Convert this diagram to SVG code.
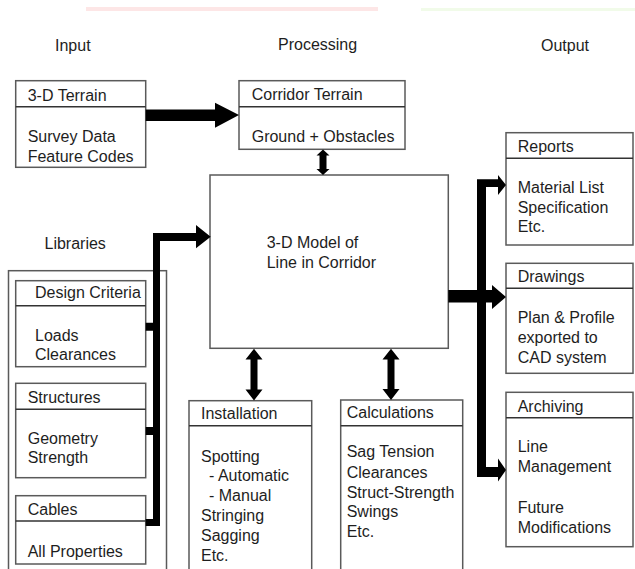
<svg xmlns="http://www.w3.org/2000/svg" width="635" height="569" viewBox="0 0 635 569">
<style>
.box{fill:#fff;stroke:#5a5a5a;stroke-width:1.5}
.div{stroke:#333;stroke-width:1.5}
text{font-family:"Liberation Sans",Arial,sans-serif;font-size:16px;fill:#1e1e1e}
.arr{fill:#000}
</style>
<rect width="635" height="569" fill="#fff"/>
<rect x="86" y="7" width="292" height="4" fill="#fde6e6"/>
<rect x="421" y="8" width="214" height="3" fill="#f1fbe9"/>
<g id="headers">
<text x="55" y="51">Input</text>
<text x="278" y="50">Processing</text>
<text x="541" y="51">Output</text>
<text x="44.5" y="249">Libraries</text>
</g>
<g id="libraries">
<rect class="box" x="8.5" y="270.7" width="158" height="320"/>
</g>
<g id="terrain">
<rect class="box" x="15.7" y="80.7" width="130" height="86.6"/>
<line class="div" x1="15.7" y1="106.7" x2="145.7" y2="106.7"/>
<text x="27.7" y="100.5">3-D Terrain</text>
<text x="27.7" y="141.7">Survey Data</text>
<text x="27.7" y="161.7">Feature Codes</text>
</g>
<g id="corridor">
<rect class="box" x="239" y="80.7" width="166" height="68.6"/>
<line class="div" x1="239" y1="106.7" x2="405" y2="106.7"/>
<text x="251.7" y="100">Corridor Terrain</text>
<text x="251.7" y="141.7">Ground + Obstacles</text>
</g>
<g id="model">
<rect class="box" x="210" y="175" width="238.3" height="173.3"/>
<text x="266.7" y="248.3">3-D Model of</text>
<text x="266.7" y="268.3">Line in Corridor</text>
</g>
<g id="design">
<rect class="box" x="15.7" y="280.7" width="130" height="86"/>
<line class="div" x1="15.7" y1="305.7" x2="145.7" y2="305.7"/>
<text x="35" y="298.3">Design Criteria</text>
<text x="35" y="340.7">Loads</text>
<text x="35" y="360">Clearances</text>
</g>
<g id="structures">
<rect class="box" x="15.7" y="383.3" width="130" height="94.4"/>
<line class="div" x1="15.7" y1="409.3" x2="145.7" y2="409.3"/>
<text x="27.7" y="403.3">Structures</text>
<text x="27.7" y="444.3">Geometry</text>
<text x="27.7" y="463.3">Strength</text>
</g>
<g id="cables">
<rect class="box" x="15.7" y="495.7" width="130" height="68.3"/>
<line class="div" x1="15.7" y1="521" x2="145.7" y2="521"/>
<text x="27.7" y="515">Cables</text>
<text x="27.7" y="556.7">All Properties</text>
</g>
<g id="installation">
<rect class="box" x="189" y="400.7" width="122.7" height="200"/>
<line class="div" x1="189" y1="425.7" x2="311.7" y2="425.7"/>
<text x="201" y="419.3">Installation</text>
<text x="201" y="461.5">Spotting</text>
<text x="209" y="481.3">- Automatic</text>
<text x="209" y="501.1">- Manual</text>
<text x="201" y="520.9">Stringing</text>
<text x="201" y="540.7">Sagging</text>
<text x="201" y="560.5">Etc.</text>
</g>
<g id="calculations">
<rect class="box" x="340.7" y="400" width="122" height="200"/>
<line class="div" x1="340.7" y1="425.7" x2="462.7" y2="425.7"/>
<text x="346.7" y="418.3">Calculations</text>
<text x="346.7" y="457.3">Sag Tension</text>
<text x="346.7" y="477.5">Clearances</text>
<text x="346.7" y="497.5">Struct-Strength</text>
<text x="346.7" y="517.3">Swings</text>
<text x="346.7" y="537">Etc.</text>
</g>
<g id="reports">
<rect class="box" x="506" y="132.7" width="127" height="112.3"/>
<line class="div" x1="506" y1="158.3" x2="633" y2="158.3"/>
<text x="517.7" y="152.3">Reports</text>
<text x="517.7" y="192.7">Material List</text>
<text x="517.7" y="212.5">Specification</text>
<text x="517.7" y="232.3">Etc.</text>
</g>
<g id="drawings">
<rect class="box" x="506" y="263.3" width="127" height="110"/>
<line class="div" x1="506" y1="288.3" x2="633" y2="288.3"/>
<text x="517.7" y="281.7">Drawings</text>
<text x="517.7" y="322.5">Plan &amp; Profile</text>
<text x="517.7" y="343">exported to</text>
<text x="517.7" y="363">CAD system</text>
</g>
<g id="archiving">
<rect class="box" x="506" y="392.3" width="127" height="154.4"/>
<line class="div" x1="506" y1="417.7" x2="633" y2="417.7"/>
<text x="517.7" y="411.7">Archiving</text>
<text x="517.7" y="451.7">Line</text>
<text x="517.7" y="472">Management</text>
<text x="517.7" y="513">Future</text>
<text x="517.7" y="533">Modifications</text>
</g>
<g id="connectors">
<polygon class="arr" points="145.7,109.5 215,109.5 215,102.7 239,115 215,127.7 215,121 145.7,121"/>
<polygon class="arr" points="323,149.5 329.5,155.5 326.5,155.5 326.5,169 329.5,169 323,175 316.5,169 319.5,169 319.5,155.5 316.5,155.5"/>
<polygon class="arr" points="254,348.8 262.5,359.5 257.5,359.5 257.5,389.5 262.5,389.5 254,400.5 245.5,389.5 250.5,389.5 250.5,359.5 245.5,359.5"/>
<polygon class="arr" points="391,348.8 399.5,359.5 394.5,359.5 394.5,389 399.5,389 391,400 382.5,389 387.5,389 387.5,359.5 382.5,359.5"/>
<path class="arr" d="M153,233 H196 V225 L210.7,236.8 L196,248.3 V241 H160 V526 H145.7 V519 H153 V435 H145.7 V427 H153 V330.7 H145.7 V322.7 H153 Z"/>
<path class="arr" d="M448.3,290 H477 V179.3 H498 V175 L506,185 L498,195 V187 H486 V290 H492 V285 L506,297 L492,309 V302.5 H486 V467 H498 V458.5 L506,470 L498,481.5 V477 H477 V302.5 H448.3 Z"/>
</g>
</svg>
